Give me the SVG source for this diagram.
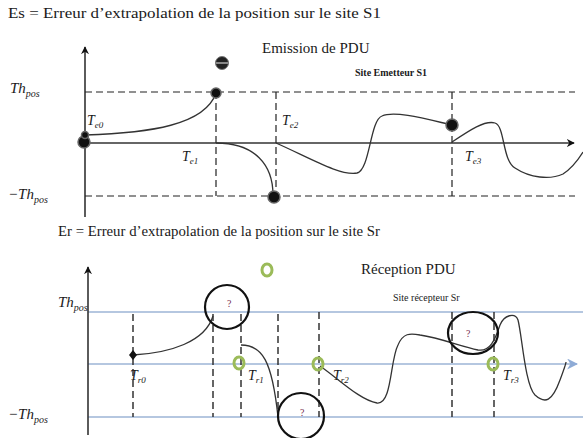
<svg xmlns="http://www.w3.org/2000/svg" width="583" height="438" viewBox="0 0 583 438">
<style>
.t{font-family:"Liberation Serif",serif;fill:#1a1a1a}
.m{font-family:"Liberation Serif",serif;font-style:italic;fill:#1a1a1a}
.ax{stroke:#333;stroke-width:1.6;fill:none}
.dash{stroke:#222;stroke-width:1.2;stroke-dasharray:7,4;fill:none}
.vd{stroke:#333;stroke-width:1.5;stroke-dasharray:7,4;fill:none}
.bl{stroke:#9db5d6;stroke-width:1.3;fill:none}
.cv{stroke:#333;stroke-width:1.3;fill:none}
.dot{fill:#111;stroke:#666;stroke-width:1.5}
.ring{fill:none;stroke:#111;stroke-width:2.2}
.gr{fill:none;stroke:#9bbb59;stroke-width:3}
.q{font-family:"Liberation Serif",serif;font-size:10px;fill:#7a3050}
</style>
<defs>
<marker id="ab" viewBox="0 0 10 10" refX="9" refY="5" markerWidth="8" markerHeight="8" orient="auto" markerUnits="userSpaceOnUse"><path d="M0,0 L10,5 L0,10 L3,5 Z" fill="#111"/></marker>
<marker id="abl" viewBox="0 0 10 10" refX="9" refY="5" markerWidth="11" markerHeight="11" orient="auto" markerUnits="userSpaceOnUse"><path d="M0,0 L10,5 L0,10 L3,5 Z" fill="#8eabd6"/></marker>
</defs>

<!-- Top chart -->
<g id="top-titles">
<text class="t" x="8" y="18" font-size="15" textLength="373" lengthAdjust="spacingAndGlyphs">Es = Erreur d’extrapolation de la position sur le site S1</text>
<text class="t" x="262" y="53" font-size="15">Emission de PDU</text>
<text class="t" x="355" y="76" font-size="10" font-weight="bold">Site Emetteur S1</text>
</g>
<g id="top-axes">
<line class="ax" x1="85" y1="217" x2="85" y2="47" marker-end="url(#ab)"/>
<line class="ax" x1="85" y1="143" x2="574" y2="143" marker-end="url(#ab)"/>
<line class="dash" x1="85" y1="92" x2="575" y2="92"/>
<line class="dash" x1="85" y1="196" x2="575" y2="196"/>
<line class="dash" x1="216" y1="92" x2="216" y2="196"/>
<line class="dash" x1="276" y1="92" x2="276" y2="196"/>
<line class="dash" x1="452" y1="92" x2="452" y2="196"/>
</g>
<g id="top-labels">
<text class="m" x="10" y="93" font-size="15">Th<tspan font-size="10" dy="4">pos</tspan></text>
<text class="m" x="8" y="199" font-size="15">−Th<tspan font-size="10" dy="4">pos</tspan></text>
<text class="m" x="87" y="125" font-size="14">T<tspan font-size="9" dy="3">e0</tspan></text>
<text class="m" x="182" y="161" font-size="14">T<tspan font-size="9" dy="3">e1</tspan></text>
<text class="m" x="282" y="125" font-size="14">T<tspan font-size="9" dy="3">e2</tspan></text>
<text class="m" x="465" y="161" font-size="14">T<tspan font-size="9" dy="3">e3</tspan></text>
</g>
<g id="top-connectors">
<path class="cv" d="M85,135 C150,133 205,125 216,93"/>
<path class="cv" d="M216,143 C255,143 273,165 273,195"/>
<path class="cv" d="M276,143 C310,158 340,176 357,173 C370,170 370,120 382,116 C395,110 430,120 452,125"/>
<path class="cv" d="M452,142 C470,130 485,120 495,123 C505,126 502,160 515,168 C530,178 550,180 563,174 C572,168 578,160 583,152"/>
</g>
<g id="top-dots">
<circle class="dot" cx="84" cy="142" r="6"/>
<circle class="dot" cx="85" cy="135" r="3.5"/>
<circle class="dot" cx="216" cy="93" r="5"/>
<g id="dot-minus"><circle cx="222" cy="63" r="6.5" fill="#222" stroke="#777" stroke-width="1"/><line x1="216" y1="63" x2="228" y2="63" stroke="#888" stroke-width="2"/></g>
<circle class="dot" cx="274" cy="197" r="6"/>
<circle class="dot" cx="452" cy="125" r="6"/>
</g>

<!-- Bottom chart -->
<g id="bottom-titles">
<text class="t" x="58" y="236" font-size="15" textLength="322" lengthAdjust="spacingAndGlyphs">Er = Erreur d’extrapolation de la position sur le site Sr</text>
<text class="t" x="361" y="274" font-size="15">Réception PDU</text>
<text class="t" x="393" y="301" font-size="10">Site récepteur Sr</text>
</g>
<g id="bottom-axes">
<line class="bl" x1="88" y1="312" x2="583" y2="312"/>
<line class="bl" x1="88" y1="364" x2="577" y2="364" marker-end="url(#abl)"/>
<line class="bl" x1="88" y1="417" x2="583" y2="417"/>
<line class="ax" x1="88" y1="435" x2="88" y2="267" marker-end="url(#ab)"/>
<line class="vd" x1="133" y1="314" x2="133" y2="417"/>
<line class="vd" x1="213" y1="314" x2="213" y2="417"/>
<line class="vd" x1="241" y1="314" x2="241" y2="417"/>
<line class="vd" x1="278" y1="314" x2="278" y2="417"/>
<line class="vd" x1="319" y1="312" x2="319" y2="417"/>
<line class="vd" x1="452" y1="312" x2="452" y2="417"/>
<line class="vd" x1="494" y1="312" x2="494" y2="417"/>
</g>
<g id="bottom-labels">
<text class="m" x="58" y="307" font-size="15">Th<tspan font-size="10" dy="4">pos</tspan></text>
<text class="m" x="8" y="419" font-size="15">−Th<tspan font-size="10" dy="4">pos</tspan></text>
<text class="m" x="130" y="380" font-size="14">T<tspan font-size="9" dy="3">r0</tspan></text>
<text class="m" x="248" y="380" font-size="14">T<tspan font-size="9" dy="3">r1</tspan></text>
<text class="m" x="333" y="380" font-size="14">T<tspan font-size="9" dy="3">r2</tspan></text>
<text class="m" x="503" y="380" font-size="14">T<tspan font-size="9" dy="3">r3</tspan></text>
</g>
<g id="bottom-connectors">
<path class="cv" d="M133,355 C170,353 205,342 213,316"/>
<path class="cv" d="M241,345 C262,345 272,360 278,417"/>
<path class="cv" d="M320,366 C340,380 360,400 377,403 C392,405 390,360 398,345 C403,333 410,333 420,335 C440,338 460,346 478,350 C490,352 495,340 500,325 C504,315 515,312 518,320 C522,335 525,385 535,395 C545,404 552,402 560,380 C563,372 566,364 566,362"/>
</g>
<g id="bottom-nodes">
<path d="M133,350 L137,355 L133,360 L129,355 Z" fill="#111"/>
<g id="q1"><circle class="ring" cx="227" cy="307" r="22"/><text class="q" x="227" y="307">?</text></g>
<g id="q2"><circle class="ring" cx="301" cy="416" r="23"/><text class="q" x="300" y="416">?</text></g>
<g id="q3"><ellipse class="ring" cx="473" cy="333" rx="25" ry="21"/><text class="q" x="466" y="337">?</text></g>
<ellipse class="gr" cx="267" cy="270" rx="5" ry="6"/>
<ellipse class="gr" cx="239" cy="363" rx="5" ry="6"/>
<ellipse class="gr" cx="318" cy="364" rx="5" ry="6"/>
<ellipse class="gr" cx="493" cy="364" rx="5" ry="6"/>
</g>
</svg>
